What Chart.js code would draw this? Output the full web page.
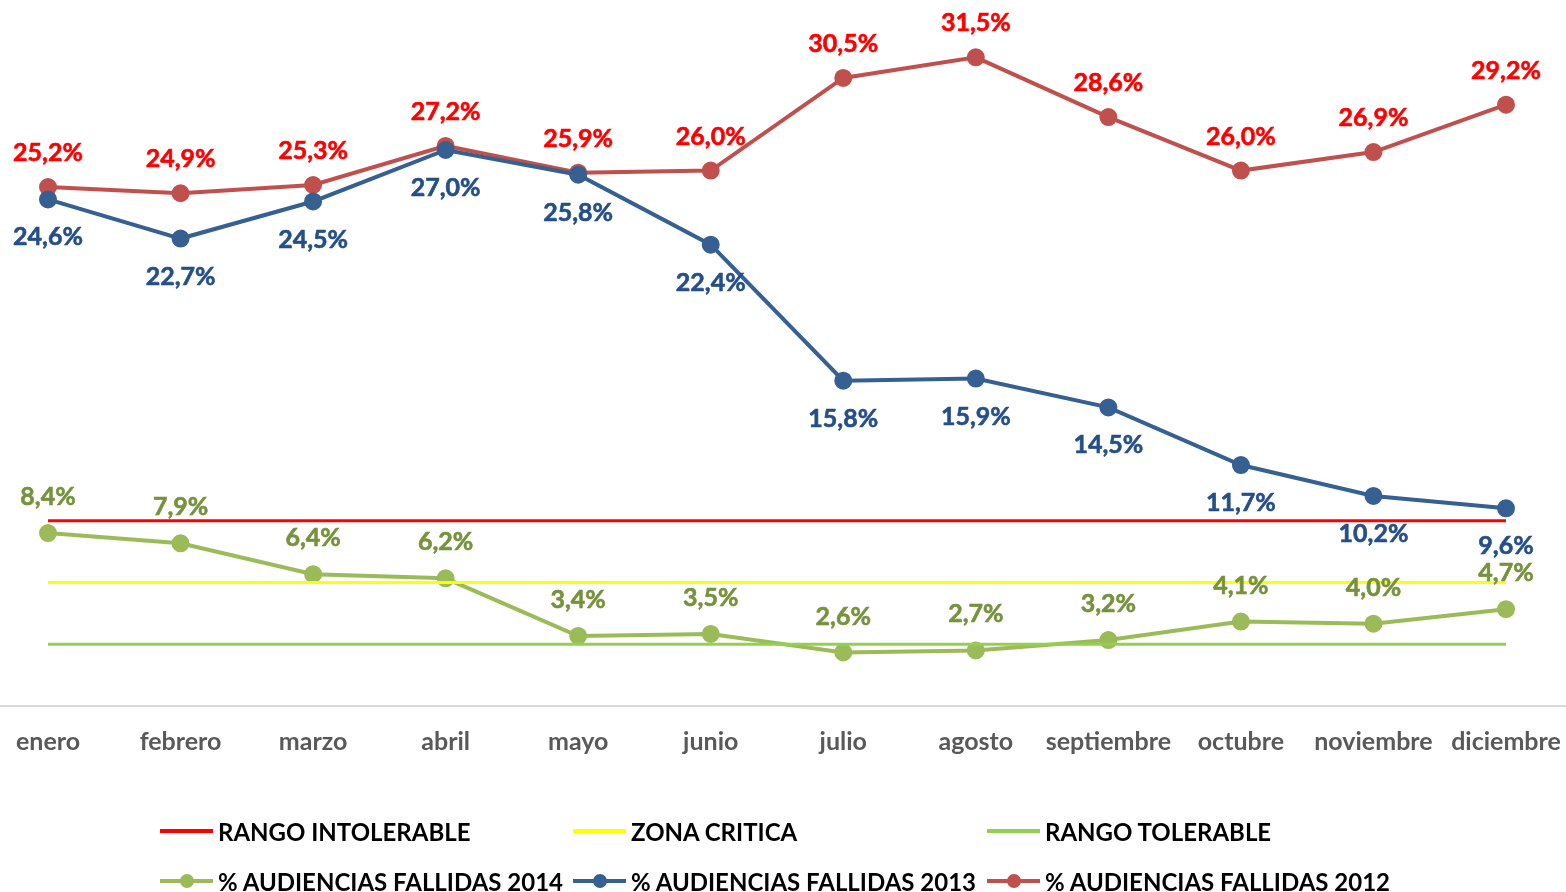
<!DOCTYPE html>
<html>
<head>
<meta charset="utf-8">
<script src="https://cdn.jsdelivr.net/npm/chart.js@4"></script>
<style>
  html,body{margin:0;padding:0;background:#fff;overflow:hidden;}
  #wrap{position:relative;width:1566px;height:892px;}
  canvas{position:absolute;left:0;top:0;}
  .lg{position:absolute;display:flex;align-items:center;font-family:Lato,"Open Sans",sans-serif;font-weight:bold;font-size:24px;color:#000;white-space:nowrap;}
  .lg .smp{position:relative;width:53px;height:4px;margin-right:5px;}
  .lg .dot{position:absolute;left:20px;top:-5px;width:14px;height:14px;border-radius:50%;}
</style>
</head>
<body>
<div id="wrap">
<canvas id="c" width="1566" height="892"></canvas>
<div id="legend"></div>
</div>
<script>
const categories = ['enero','febrero','marzo','abril','mayo','junio','julio','agosto','septiembre','octubre','noviembre','diciembre'];
const fallidas2012 = [25.2, 24.9, 25.3, 27.2, 25.9, 26.0, 30.5, 31.5, 28.6, 26.0, 26.9, 29.2];
const fallidas2013 = [24.6, 22.7, 24.5, 27.0, 25.8, 22.4, 15.8, 15.9, 14.5, 11.7, 10.2, 9.6];
const fallidas2014 = [8.4, 7.9, 6.4, 6.2, 3.4, 3.5, 2.6, 2.7, 3.2, 4.1, 4.0, 4.7];
const rangoIntolerable = 9;
const zonaCritica = 6;
const rangoTolerable = 3;
const yMin = 0;
const yMax = 33.75;

const constLine = v => categories.map(() => v);

const datasets = [
  {label:'RANGO INTOLERABLE', data:constLine(rangoIntolerable), borderColor:'#FF0000', backgroundColor:'#FF0000', borderWidth:3, pointRadius:0, order:1},
  {label:'ZONA CRITICA', data:constLine(zonaCritica), borderColor:'#FFFF00', backgroundColor:'#FFFF00', borderWidth:3, pointRadius:0, order:2},
  {label:'RANGO TOLERABLE', data:constLine(rangoTolerable), borderColor:'#92D050', backgroundColor:'#92D050', borderWidth:3, pointRadius:0, order:3},
  {label:'% AUDIENCIAS FALLIDAS 2014', data:fallidas2014, borderColor:'#9BBB59', backgroundColor:'#9BBB59', borderWidth:4, pointRadius:7, pointHoverRadius:7, labelColor:'#76923C', labelOffset:-36, order:4},
  {label:'% AUDIENCIAS FALLIDAS 2013', data:fallidas2013, borderColor:'#366092', backgroundColor:'#366092', borderWidth:4, pointRadius:7, pointHoverRadius:7, labelColor:'#254F88', labelOffset:38, order:5},
  {label:'% AUDIENCIAS FALLIDAS 2012', data:fallidas2012, borderColor:'#C0504D', backgroundColor:'#C0504D', borderWidth:4, pointRadius:7, pointHoverRadius:7, labelColor:'#FF0000', labelOffset:-34, order:6}
];

const baseline = {
  id:'baseline',
  beforeDatasetsDraw(chart){
    const ctx = chart.ctx, y = chart.scales.y.getPixelForValue(0);
    ctx.save();
    ctx.strokeStyle = '#D9D9D9'; ctx.lineWidth = 2;
    ctx.beginPath(); ctx.moveTo(0, y); ctx.lineTo(chart.width, y); ctx.stroke();
    ctx.restore();
  }
};

const valueLabels = {
  id:'valueLabels',
  afterDatasetsDraw(chart){
    const ctx = chart.ctx;
    ctx.save();
    ctx.font = 'bold 25px Lato, "Open Sans", sans-serif';
    ctx.textAlign = 'center';
    ctx.textBaseline = 'middle';
    chart.data.datasets.forEach((ds, i) => {
      if (!ds.labelColor) return;
      const meta = chart.getDatasetMeta(i);
      ctx.fillStyle = ds.labelColor;
      ctx.strokeStyle = ds.labelColor;
      ctx.lineWidth = 0.6;
      meta.data.forEach((pt, j) => {
        const txt = ds.data[j].toFixed(1).replace('.', ',') + '%';
        ctx.fillText(txt, pt.x, pt.y + ds.labelOffset);
        ctx.strokeText(txt, pt.x, pt.y + ds.labelOffset);
      });
    });
    ctx.restore();
  }
};

new Chart(document.getElementById('c'), {
  type:'line',
  data:{labels:categories, datasets},
  options:{
    responsive:false,
    animation:false,
    layout:{padding:{left:48, right:60, top:6, bottom:0}},
    plugins:{legend:{display:false}, tooltip:{enabled:false}},
    elements:{line:{tension:0}},
    scales:{
      y:{display:false, min:yMin, max:yMax},
      x:{
        offset:false,
        grid:{display:false, drawTicks:false},
        border:{display:false},
        ticks:{color:'#595959', font:{family:'Lato, "Open Sans", sans-serif', weight:'bold', size:25}, padding:21, maxRotation:0, autoSkip:false},
        afterFit(scale){ scale.height = 186; scale.paddingLeft = 0; scale.paddingRight = 0; }
      }
    }
  },
  plugins:[baseline, valueLabels]
});

// HTML legend in a fixed grid
const legend = document.getElementById('legend');
const cols = [160, 573, 987];
const rows = [831, 881];
datasets.forEach((ds, k) => {
  const el = document.createElement('div');
  el.className = 'lg';
  el.style.left = cols[k % 3] + 'px';
  el.style.top = (rows[Math.floor(k / 3)] - 15) + 'px';
  el.style.height = '30px';
  const smp = document.createElement('div');
  smp.className = 'smp';
  smp.style.background = ds.borderColor;
  if (ds.pointRadius) {
    const d = document.createElement('div');
    d.className = 'dot';
    d.style.background = ds.borderColor;
    smp.appendChild(d);
  }
  el.appendChild(smp);
  el.appendChild(document.createTextNode(ds.label));
  legend.appendChild(el);
});
</script>
</body>
</html>
